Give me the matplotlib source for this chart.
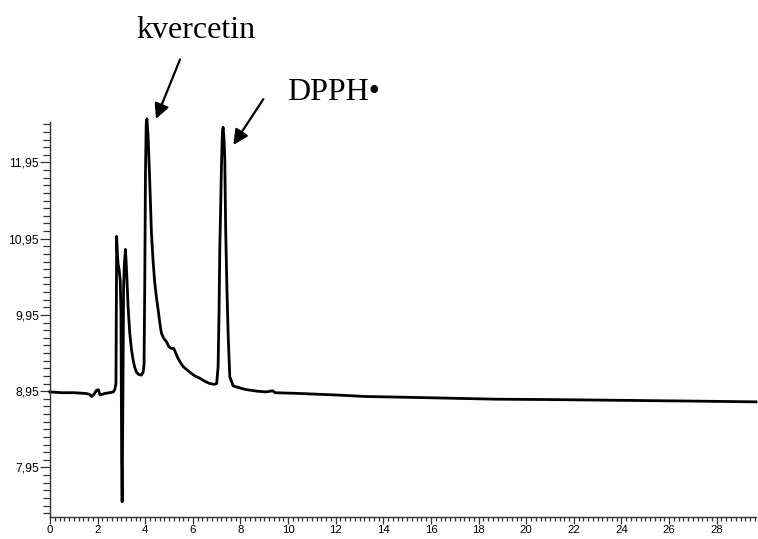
import matplotlib
matplotlib.use("Agg")
import matplotlib.pyplot as plt
from matplotlib.ticker import MultipleLocator, FixedLocator

# retention time (min)
time = [0, 0.5, 1.0, 1.5, 1.65, 1.75, 1.85, 1.95, 2.03, 2.1, 2.3, 2.5, 2.66, 2.72, 2.77,
        2.79, 2.80, 2.83, 2.86, 2.90, 2.95, 2.98, 3.01, 3.03, 3.06, 3.09, 3.12, 3.17, 3.22,
        3.28, 3.35, 3.42, 3.49, 3.56, 3.63, 3.72, 3.84, 3.91, 3.95, 3.98, 4.01, 4.04, 4.07,
        4.12, 4.19, 4.26, 4.33, 4.40, 4.47, 4.54, 4.61, 4.68, 4.78, 4.89, 5.00, 5.10, 5.20,
        5.28, 5.36, 5.45, 5.6, 5.87, 6.08, 6.29, 6.5, 6.71, 6.9, 7.0, 7.06, 7.10, 7.13, 7.17,
        7.20, 7.24, 7.27, 7.31, 7.34, 7.38, 7.43, 7.48, 7.55, 7.69, 8.0, 8.25, 8.7, 9.08,
        9.25, 9.35, 9.45, 10.48, 12.0, 13.28, 15.0, 18.73, 21.0, 24.0, 27.0, 29.65]
# detector signal
signal = [8.94, 8.93, 8.93, 8.92, 8.91, 8.88, 8.91, 8.96, 8.97, 8.90, 8.92, 8.93, 8.94, 8.97, 9.05,
          10.3, 10.98, 10.75, 10.62, 10.55, 10.40, 10.0, 8.0, 7.50, 8.8, 10.3, 10.6, 10.81, 10.5,
          10.05, 9.71, 9.50, 9.36, 9.26, 9.20, 9.17, 9.16, 9.20, 9.30, 10.37, 11.82, 12.45, 12.52,
          12.3, 11.69, 11.03, 10.65, 10.37, 10.18, 10.02, 9.85, 9.71, 9.64, 9.60, 9.53, 9.51, 9.51,
          9.45, 9.39, 9.34, 9.27, 9.20, 9.15, 9.12, 9.08, 9.05, 9.04, 9.05, 9.27, 10.0, 10.81, 11.4,
          11.90, 12.35, 12.41, 12.25, 11.99, 11.03, 10.3, 9.71, 9.14, 9.02, 8.99, 8.97, 8.95, 8.94,
          8.95, 8.955, 8.93, 8.92, 8.90, 8.88, 8.87, 8.845, 8.84, 8.83, 8.82, 8.81]

x_ticks = [0, 2, 4, 6, 8, 10, 12, 14, 16, 18, 20, 22, 24, 26, 28]
y_ticks = [7.95, 8.95, 9.95, 10.95, 11.95]
y_ticklabels = ["7,95", "8,95", "9,95", "10,95", "11,95"]

labels = ["kvercetin", "DPPH•"]
label_pos = [(3.65, 13.58), (9.95, 12.77)]
arrow_tail = [(5.46, 13.30), (8.96, 12.78)]
arrow_tip = [(4.45, 12.52), (7.70, 12.18)]

fig = plt.figure(figsize=(7.58, 5.39), dpi=100)
ax = fig.add_axes([50 / 758, 1 - 517 / 539, 706 / 758, (517 - 122) / 539])

ax.plot(time, signal, color="black", lw=2.0, solid_joinstyle="round", clip_on=False)

ax.set_xlim(0, 29.65)
ax.set_ylim(7.30, 12.48)

for s in ["top", "right"]:
    ax.spines[s].set_visible(False)
for s in ["left", "bottom"]:
    ax.spines[s].set_color("#333333")
    ax.spines[s].set_linewidth(1.0)

ax.xaxis.set_major_locator(FixedLocator(x_ticks))
ax.xaxis.set_minor_locator(MultipleLocator(0.2))
ax.yaxis.set_major_locator(FixedLocator(y_ticks))
ax.set_yticklabels(y_ticklabels)
ax.yaxis.set_minor_locator(FixedLocator([7.35 + 0.1 * i for i in range(52)]))

ax.tick_params(axis="both", which="both", direction="out", color="#333333", width=0.9)
ax.tick_params(axis="x", which="major", length=5, pad=1, labelsize=8.2)
ax.tick_params(axis="x", which="minor", length=3)
ax.tick_params(axis="y", which="major", length=7, pad=1, labelsize=8.7)
ax.tick_params(axis="y", which="minor", length=5)
for t in ax.get_xticklabels() + ax.get_yticklabels():
    t.set_fontfamily("Liberation Sans")

for lab, pos, tail, tip in zip(labels, label_pos, arrow_tail, arrow_tip):
    ax.text(pos[0], pos[1], lab, ha="left", va="baseline", fontsize=23,
            fontfamily=["Liberation Serif", "DejaVu Serif"], clip_on=False)
    ax.annotate("", xy=tip, xytext=tail, xycoords="data", textcoords="data",
                arrowprops=dict(arrowstyle="-|>,head_length=0.9,head_width=0.45",
                                color="black", lw=1.6, shrinkA=0, shrinkB=0),
                annotation_clip=False)

fig.savefig("out.png", dpi=100)
